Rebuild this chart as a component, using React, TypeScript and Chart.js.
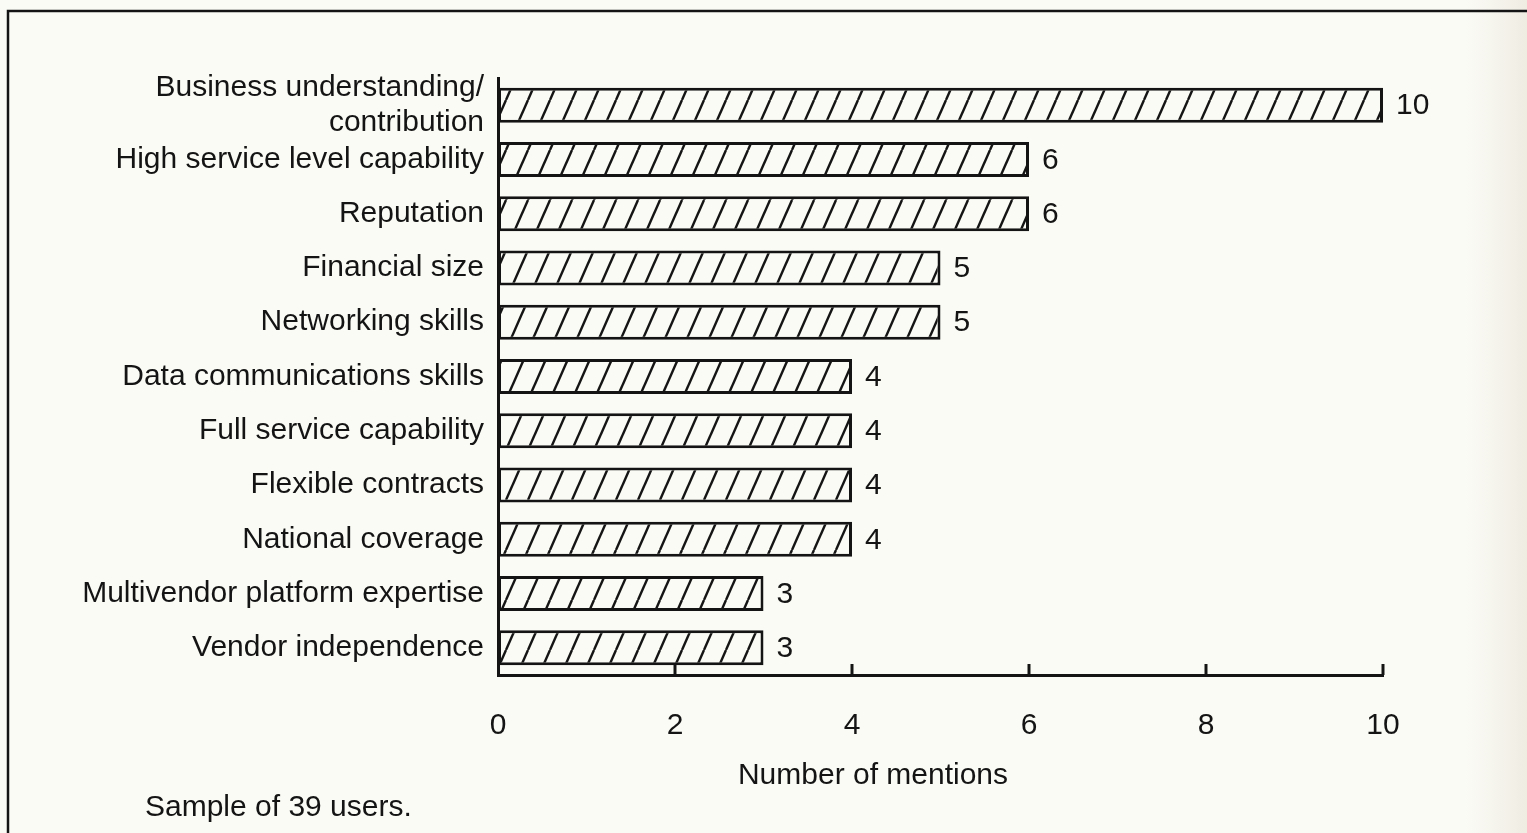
import React, { useEffect, useRef } from "react";
import { Chart, registerables } from "chart.js";

Chart.register(...registerables);

const categories: (string | string[])[] = [
  ["Business understanding/", "contribution"],
  "High service level capability",
  "Reputation",
  "Financial size",
  "Networking skills",
  "Data communications skills",
  "Full service capability",
  "Flexible contracts",
  "National coverage",
  "Multivendor platform expertise",
  "Vendor independence",
];
const mentions = [10, 6, 6, 5, 5, 4, 4, 4, 4, 3, 3];
const xMin = 0;
const xMax = 10;
const xStep = 2;
const xAxisTitle = "Number of mentions";
const footnote = "Sample of 39 users.";

const INK = "#141414";
const PAPER = "#fbfbf6";
const FONT = "'Liberation Sans', Arial, Helvetica, sans-serif";
const FS = 30;

function makeHatch(): CanvasPattern | string {
  const w = 22;
  const h = 50;
  const c = document.createElement("canvas");
  c.width = w;
  c.height = h;
  const g = c.getContext("2d");
  if (!g) return PAPER;
  g.fillStyle = PAPER;
  g.fillRect(0, 0, w, h);
  g.strokeStyle = INK;
  g.lineWidth = 2.4;
  for (const off of [-w, 0, w]) {
    g.beginPath();
    g.moveTo(off, h);
    g.lineTo(off + w, 0);
    g.stroke();
  }
  const p = g.createPattern(c, "repeat");
  return p || PAPER;
}

const decorPlugin = {
  id: "decor",
  beforeDraw(chart: any) {
    const { ctx, width, height } = chart;
    ctx.save();
    ctx.strokeStyle = INK;
    ctx.lineWidth = 2.5;
    ctx.beginPath();
    ctx.moveTo(8, height);
    ctx.lineTo(8, 11);
    ctx.lineTo(width, 11);
    ctx.stroke();
    ctx.restore();
  },
  afterDraw(chart: any) {
    const { ctx, chartArea } = chart;
    const xs = chart.scales.x;
    ctx.save();
    ctx.strokeStyle = INK;
    ctx.lineWidth = 3;
    for (let v = xMin + xStep; v <= xMax; v += xStep) {
      const px = xs.getPixelForValue(v);
      ctx.beginPath();
      ctx.moveTo(px, chartArea.bottom);
      ctx.lineTo(px, chartArea.bottom - 11);
      ctx.stroke();
    }
    ctx.fillStyle = INK;
    ctx.font = `${FS}px ${FONT}`;
    ctx.textAlign = "left";
    ctx.textBaseline = "middle";
    const meta = chart.getDatasetMeta(0);
    meta.data.forEach((bar: any, i: number) => {
      ctx.fillText(String(mentions[i]), bar.x + 13, bar.y + 1);
    });
    ctx.textAlign = "center";
    ctx.fillText(xAxisTitle, 873, 776);
    ctx.textAlign = "left";
    ctx.fillText(footnote, 145, 808);
    ctx.restore();
  },
};

export default function App() {
  const ref = useRef<HTMLCanvasElement | null>(null);
  useEffect(() => {
    if (!ref.current) return;
    const hatch = makeHatch();
    const chart = new Chart(ref.current, {
      type: "bar",
      data: {
        labels: categories,
        datasets: [
          {
            data: mentions,
            backgroundColor: hatch as any,
            borderColor: INK,
            borderWidth: 3,
            borderSkipped: false,
            barPercentage: 0.645,
            categoryPercentage: 1,
          },
        ],
      },
      options: {
        indexAxis: "y",
        animation: false,
        responsive: false,
        maintainAspectRatio: false,
        layout: { padding: { top: 78, right: 144, bottom: 0, left: 0 } },
        plugins: {
          legend: { display: false },
          tooltip: { enabled: false },
          title: { display: false },
        },
        scales: {
          x: {
            type: "linear",
            min: xMin,
            max: xMax,
            grid: { display: false, drawTicks: false },
            border: { display: true, color: INK, width: 3 },
            ticks: {
              stepSize: xStep,
              color: INK,
              font: { family: FONT, size: FS },
              padding: 33,
              maxRotation: 0,
            },
            afterFit(scale: any) {
              scale.height = 158;
              scale.paddingLeft = 0;
              scale.paddingRight = 0;
            },
          },
          y: {
            type: "category",
            grid: { display: false, drawTicks: false },
            border: { display: true, color: INK, width: 3 },
            ticks: {
              color: INK,
              font: { family: FONT, size: FS, lineHeight: 1.17 },
              padding: 14,
              autoSkip: false,
            },
            afterFit(scale: any) {
              scale.width = 498;
              scale.paddingTop = 0;
              scale.paddingBottom = 0;
            },
          },
        },
      },
      plugins: [decorPlugin],
    });
    return () => chart.destroy();
  }, []);

  return (
    <div
      style={{
        position: "fixed",
        left: 0,
        top: 0,
        width: 1527,
        height: 833,
        background: `linear-gradient(to right, ${PAPER} 0%, ${PAPER} 96%, #efece2 100%)`,
      }}
    >
      <canvas ref={ref} width={1527} height={833} style={{ display: "block", width: 1527, height: 833 }} />
    </div>
  );
}
